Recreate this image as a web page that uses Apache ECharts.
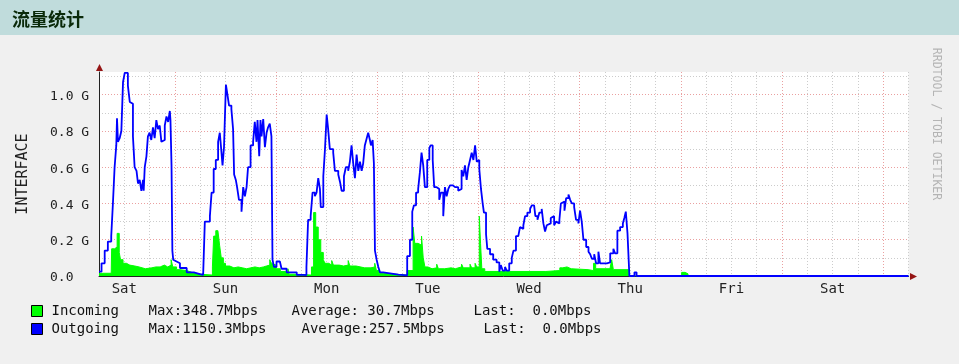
<!DOCTYPE html>
<html><head><meta charset="utf-8">
<script src="https://cdn.jsdelivr.net/npm/echarts@6/dist/echarts.min.js"></script>
<style>html,body{margin:0;padding:0;background:#f0f0f0}#c{width:959px;height:364px}</style>
</head><body><div id="c"></div><script>
// hours since Saturday 00:00 ; values in G
const dayNames = ['Sat','Sun','Mon','Tue','Wed','Thu','Fri','Sat'];
const xMin = 6, xMax = 198, yMax = 1.125;
const yLabelSteps = [0, 0.2, 0.4, 0.6, 0.8, 1.0];

const outSat = [[6,0.024],[6.6,0.07],[7.35,0.14],[8.1,0.19],[8.9,0.22],[9.3,0.40],[9.7,0.60],[10.1,0.72],[10.27,0.87],[10.5,0.74],[10.9,0.76],[11.3,0.80],[11.7,1.07],[12.1,1.12],[12.85,1.05],[13.3,0.96],[13.7,0.95],[14.05,0.77],[14.45,0.60],[14.9,0.58],[15.25,0.51],[15.65,0.53],[16.05,0.47],[16.45,0.53],[16.6,0.47],[16.85,0.60],[17.25,0.66],[17.6,0.77],[18.0,0.79],[18.4,0.75],[18.8,0.82],[19.2,0.76],[19.6,0.86],[20.0,0.81],[20.4,0.83],[20.8,0.74],[21.2,0.75],[21.6,0.83],[22.0,0.88],[22.4,0.85],[22.8,0.91],[22.95,0.86],[23.2,0.61],[23.4,0.14],[23.6,0.09],[24.0,0.08],[24.4,0.07],[25.2,0.044],[26.8,0.02],[28.5,0.01],[29.9,0.006]];
const outSun = [[30.7,0.005],[31.1,0.30],[32.3,0.33],[32.7,0.46],[33.2,0.59],[33.7,0.64],[34.25,0.74],[34.65,0.79],[35.05,0.68],[35.3,0.61],[35.65,0.71],[36.1,1.055],[36.4,1.01],[36.85,0.94],[37.4,0.92],[37.8,0.81],[38.05,0.56],[38.45,0.53],[38.75,0.49],[39.2,0.42],[39.8,0.355],[40.2,0.49],[40.6,0.44],[41.0,0.49],[41.35,0.60],[41.95,0.72],[42.55,0.74],[42.95,0.85],[43.35,0.74],[43.6,0.86],[44.0,0.66],[44.3,0.86],[44.55,0.77],[44.95,0.865],[45.35,0.71],[45.75,0.79],[46.1,0.82],[46.5,0.84],[46.9,0.77],[47.15,0.09],[47.5,0.05],[48.1,0.08],[48.9,0.07],[49.3,0.04],[50.5,0.02],[52.9,0.006]];
const outMon = [[54.4,0.005],[55.2,0.05],[55.6,0.31],[56.2,0.33],[56.65,0.46],[57.2,0.44],[57.6,0.46],[58.0,0.54],[58.4,0.48],[58.6,0.38],[59.2,0.55],[59.6,0.70],[60.0,0.89],[60.35,0.81],[60.75,0.70],[61.55,0.68],[61.95,0.58],[62.75,0.56],[63.15,0.52],[63.55,0.47],[64.1,0.55],[64.55,0.60],[65.1,0.58],[65.5,0.63],[65.9,0.72],[66.3,0.62],[66.7,0.54],[67.1,0.67],[67.5,0.58],[67.9,0.63],[68.3,0.58],[68.65,0.62],[69.05,0.72],[69.5,0.76],[69.85,0.79],[70.25,0.75],[70.5,0.72],[70.9,0.75],[71.2,0.62],[71.45,0.14],[71.85,0.09],[72.25,0.05],[72.65,0.02],[73.4,0.015],[75.0,0.008]];
const outTue = [[77.0,0.004],[79.1,0.11],[79.75,0.20],[80.3,0.355],[80.7,0.39],[81.2,0.46],[81.7,0.48],[82.1,0.57],[82.5,0.68],[82.9,0.61],[83.3,0.49],[83.85,0.64],[84.35,0.705],[84.65,0.72],[85.15,0.64],[85.5,0.49],[86.1,0.48],[86.7,0.42],[87.1,0.46],[87.65,0.33],[88.05,0.49],[88.45,0.44],[88.85,0.48],[89.25,0.50],[89.9,0.49],[90.45,0.49],[91.2,0.47],[91.6,0.48],[92.0,0.585],[92.4,0.55],[92.8,0.61],[93.2,0.53],[93.6,0.60],[94.0,0.64],[94.4,0.68],[94.8,0.64],[95.2,0.72],[95.6,0.63],[96.0,0.64],[96.2,0.59],[96.6,0.48],[97.0,0.40],[97.3,0.35],[97.8,0.23],[98.1,0.15],[98.75,0.12],[99.5,0.09],[100.3,0.075]];
const outWed = [[100.95,0.024],[101.3,0.06],[101.75,0.03],[102.3,0.05],[102.7,0.03],[103.3,0.07],[103.9,0.10],[104.3,0.14],[104.9,0.22],[105.45,0.23],[105.85,0.27],[106.25,0.26],[106.65,0.28],[107.05,0.33],[107.6,0.35],[108.25,0.37],[108.65,0.39],[109.2,0.39],[109.5,0.33],[110.0,0.31],[110.45,0.35],[111.0,0.37],[111.4,0.29],[111.8,0.245],[112.2,0.28],[112.6,0.29],[113.15,0.32],[113.6,0.33],[113.95,0.28],[114.4,0.30],[114.7,0.29],[115.2,0.31],[115.55,0.40],[116.0,0.41],[116.4,0.36],[116.8,0.43],[117.35,0.45],[117.75,0.42],[118.15,0.40],[118.7,0.38],[119.15,0.31],[119.7,0.29],[120.1,0.36],[120.5,0.30],[120.9,0.20],[121.55,0.16],[122.1,0.134],[122.5,0.12],[122.9,0.095],[123.45,0.12],[123.9,0.07],[124.45,0.134],[124.85,0.07],[126.45,0.075],[127.25,0.125],[128.0,0.15],[128.4,0.125],[128.95,0.25],[129.6,0.27],[130.25,0.29],[130.6,0.32],[130.95,0.355],[131.35,0.235]];
const outRest = [[131.8,0],[133.0,0.02],[133.5,0],[151.4,0.006],[151.8,0],[154.2,0.006],[154.6,0],[178.2,0.006],[178.6,0],[198,0]];

const inSat = [[6,0.015],[8.9,0.015],[9.0,0.15],[9.7,0.16],[10.3,0.235],[10.8,0.13],[11.1,0.09],[11.7,0.07],[12.5,0.06],[13.3,0.055],[14.5,0.05],[15.5,0.04],[17,0.045],[18.5,0.05],[19.5,0.05],[20.5,0.06],[21.5,0.05],[22.3,0.06],[23.1,0.09],[23.5,0.05],[24.4,0.035],[25.2,0.03],[26.8,0.02],[28,0.01],[30,0.005]];
const inSun = [[32.9,0.05],[33.2,0.22],[33.7,0.25],[34.2,0.26],[34.6,0.17],[35.0,0.10],[35.5,0.07],[36,0.055],[37,0.045],[38,0.05],[39,0.045],[40,0.04],[41,0.045],[42,0.05],[43,0.045],[44,0.05],[45,0.055],[45.7,0.06],[46.5,0.09],[46.9,0.07],[47.2,0.06],[48,0.04],[49,0.025],[50.3,0.016],[50.8,0.04],[51.1,0.01],[52.5,0.005]];
const inMon = [[56.4,0.05],[56.9,0.35],[57.4,0.27],[58.0,0.20],[58.6,0.13],[59.2,0.09],[59.6,0.07],[60.5,0.06],[61.2,0.085],[61.6,0.06],[63,0.055],[64,0.06],[65.1,0.085],[65.5,0.055],[67,0.045],[69,0.045],[70.5,0.05],[71.4,0.07],[71.8,0.03],[72.5,0.015],[73.5,0.005]];
const inTue = [[79.1,0.03],[80.5,0.27],[80.9,0.18],[81.7,0.17],[82.5,0.22],[82.9,0.10],[83.3,0.05],[84,0.04],[85,0.045],[86.1,0.065],[86.5,0.04],[88,0.045],[89.5,0.04],[90.5,0.05],[92.0,0.065],[92.4,0.045],[94.0,0.065],[94.4,0.045],[95.2,0.07],[95.6,0.05],[96.2,0.33],[96.5,0.18],[96.8,0.04],[97.5,0.025]];
const inWed = [[108,0.025],[112,0.03],[115.3,0.045],[116,0.05],[117,0.04],[118,0.035],[122,0.03],[123.3,0.07],[123.8,0.04],[127.2,0.04],[127.6,0.09],[128.0,0.035]];
const inRest = [[131.8,0],[144.2,0.02],[145.0,0.012],[145.7,0],[147.3,0.008],[147.6,0],[195.2,0.008],[195.5,0],[198,0]];

const seriesNames = ['Incoming','Outgoing'];
const incomingStats = ['Max:348.7Mbps','Average: 30.7Mbps','Last:  0.0Mbps'];
const outgoingStats = ['Max:1150.3Mbps','Average:257.5Mbps','Last:  0.0Mbps'];

const incoming = [].concat(inSat, inSun, inMon, inTue, inWed, inRest);
const outgoing = [].concat(outSat, outSun, outMon, outTue, outWed, outRest);

const mono = 'DejaVu Sans Mono';
const richBase = {fontFamily: mono, fontSize: 14, color: '#111', lineHeight: 14};
const chart = echarts.init(document.getElementById('c'), null, {renderer: 'canvas'});
const option = {
  animation: false,
  backgroundColor: '#f0f0f0',
  graphic: [
    {id: 'tb', type: 'rect', shape: {x: 0, y: 0, width: 959, height: 35}, style: {fill: '#c0dcdc'}, silent: true, z: -10},
    {id: 'tt', type: 'text', x: 12, y: 19, style: {text: '流量统计', font: 'bold 18px "Noto Sans CJK SC"', fill: '#0a2a0a', verticalAlign: 'middle'}},
    {id: 'wm', type: 'text', x: 936, y: 124, rotation: -Math.PI / 2, style: {text: 'RRDTOOL / TOBI OETIKER', font: '11.5px "DejaVu Sans Mono"', fill: '#b4b4b4', align: 'center', verticalAlign: 'middle'}}
  ],
  grid: {left: 99, right: 50.5, top: 72, bottom: 88, show: true, backgroundColor: '#ffffff', borderWidth: 0},
  legend: {
    orient: 'vertical', left: 26, top: 299, itemWidth: 11, itemHeight: 11, itemGap: 4, icon: 'rect', selectedMode: false,
    itemStyle: {borderColor: '#000', borderWidth: 1},
    data: seriesNames,
    textStyle: {fontFamily: mono, fontSize: 14, color: '#111', padding: [0, 0, 0, 4],
      rich: {
        n: Object.assign({width: 97}, richBase),
        m1: Object.assign({width: 143}, richBase),
        m2: Object.assign({width: 153}, richBase),
        a: Object.assign({width: 182}, richBase),
        l: Object.assign({}, richBase)
      }},
    formatter: function (name) {
      const s = name === 'Incoming' ? incomingStats : outgoingStats;
      const m = name === 'Incoming' ? 'm1' : 'm2';
      return '{n|' + name + '}{' + m + '|' + s[0] + '}{a|' + s[1] + '}{l|' + s[2] + '}';
    }
  },
  xAxis: {
    type: 'value', min: xMin, max: xMax, interval: 6,
    axisLine: {show: true, lineStyle: {color: '#222', width: 1}},
    axisTick: {show: false},
    axisLabel: {margin: 6, fontFamily: mono, fontSize: 14, color: '#222',
      formatter: function (v) { const h = Math.round(v); return h % 24 === 12 ? dayNames[Math.floor(h / 24)] : ''; }},
    splitLine: {show: true, lineStyle: {color: ['#cccccc', '#cccccc', '#cccccc', '#eaa0a0'], type: [1, 2], width: 1}}
  },
  yAxis: {
    type: 'value', min: 0, max: yMax, interval: 0.1,
    name: 'INTERFACE', nameLocation: 'middle', nameGap: 68, nameRotate: 90,
    nameTextStyle: {fontFamily: mono, fontSize: 15, color: '#222'},
    axisLine: {show: true, lineStyle: {color: '#222', width: 1}},
    axisTick: {show: false},
    axisLabel: {margin: 49, align: 'left', verticalAlign: 'top', lineHeight: 4, fontFamily: mono, fontSize: 13, color: '#222', showMaxLabel: false,
      formatter: function (v) {
        const t = Math.round(v * 10) / 10;
        if (yLabelSteps.indexOf(t) < 0) return '';
        return t === 0 ? '0.0' : t.toFixed(1) + ' G';
      }},
    splitLine: {show: true, showMaxLine: false, lineStyle: {color: ['#eaa0a0', '#cccccc'], type: [1, 2], width: 1}}
  },
  series: [
    {name: 'Incoming', type: 'line', step: 'end', data: incoming, symbol: 'none', color: '#00ff00',
      lineStyle: {width: 1, color: '#00ff00'}, areaStyle: {color: '#00ff00', opacity: 1}, z: 2},
    {name: 'Outgoing', type: 'line', step: 'end', data: outgoing, symbol: 'none', color: '#0000ff',
      lineStyle: {width: 1.8, color: '#0000ff'}, z: 3}
  ]
};
chart.setOption(option);
const pTop = chart.convertToPixel({gridIndex: 0}, [xMin, yMax]);
const pRight = chart.convertToPixel({gridIndex: 0}, [xMax, 0]);
const ax = Math.round(pTop[0]) + 0.5, ay = Math.round(pRight[1]) + 0.5;
chart.setOption({graphic: [
  {id: 'ya', type: 'polygon', shape: {points: [[ax - 3.5, pTop[1] - 1], [ax + 3.5, pTop[1] - 1], [ax, pTop[1] - 8]]}, style: {fill: '#951515'}, z: 10},
  {id: 'xa', type: 'polygon', shape: {points: [[pRight[0] + 1.5, ay - 3.5], [pRight[0] + 1.5, ay + 3.5], [pRight[0] + 8.5, ay]]}, style: {fill: '#951515'}, z: 10}
]});
</script></body></html>
